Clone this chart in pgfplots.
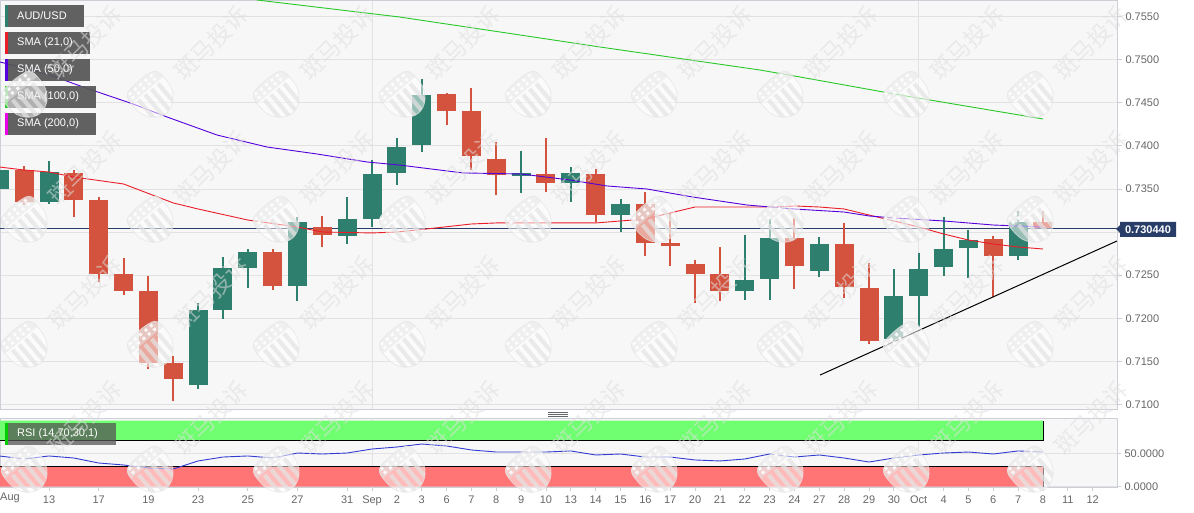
\documentclass[border=0pt]{standalone}
\usepackage{fontspec}
\setmainfont{Liberation Sans}
\newfontfamily\cjk{Noto Sans CJK SC}
\usepackage{pgfplots}
\usepackage{pgfplotstable}
\pgfplotsset{compat=1.18}
\definecolor{bg}{RGB}{247,247,247}
\definecolor{frame}{RGB}{205,207,215}
\definecolor{gridc}{RGB}{226,226,226}
\definecolor{up}{RGB}{47,127,110}
\definecolor{down}{RGB}{212,83,62}
\definecolor{navy}{RGB}{40,62,105}
\definecolor{lab}{RGB}{102,102,102}
\definecolor{box}{RGB}{85,85,85}
\definecolor{smar}{RGB}{235,30,40}
\definecolor{smap}{RGB}{85,0,220}
\definecolor{smag}{RGB}{40,200,40}
\definecolor{smam}{RGB}{230,0,230}
\definecolor{rsil}{RGB}{50,60,210}
\definecolor{bandg}{RGB}{112,255,112}
\definecolor{bandr}{RGB}{255,117,117}
\definecolor{wm}{RGB}{222,222,222}
\definecolor{wms}{RGB}{228,228,228}
\pgfplotstableread{
i top bot high low
0 .73720 .73500 .73883 .73222
2 .73697 .73349 .73825 .73326
8 .72096 .71226 .72178 .71180
9 .72584 .72096 .72711 .71992
10 .72769 .72584 .72804 .72352
12 .73117 .72375 .73175 .72201
14 .73152 .72955 .73407 .72862
15 .73674 .73152 .73836 .73059
16 .73987 .73686 .74092 .73546
17 .74590 .74010 .74776 .73929
21 .73686 .73651 .73941 .73454
23 .73686 .73570 .73755 .73349
25 .73326 .73198 .73384 .73001
30 .72444 .72317 .72966 .72212
31 .72932 .72456 .73152 .72212
33 .72862 .72549 .72943 .72479
36 .72259 .71760 .72572 .71737
37 .72572 .72259 .72758 .71899
38 .72804 .72595 .73175 .72491
39 .72908 .72816 .73024 .72468
41 .73117 .72723 .73245 .72676
}\upt
\pgfplotstableread{
i top bot high low
1 .73720 .73349 .73767 .73314
3 .73686 .73372 .73720 .73175
4 .73372 .72514 .73407 .72421
5 .72514 .72317 .72700 .72270
6 .72317 .71482 .72491 .71412
7 .71482 .71296 .71563 .71041
11 .72769 .72375 .72804 .72328
13 .73059 .72966 .73187 .72827
18 .74602 .74405 .74614 .74242
19 .74405 .73883 .74672 .73720
20 .73848 .73662 .74045 .73430
22 .73674 .73570 .74092 .73465
24 .73674 .73198 .73732 .73117
26 .73326 .72874 .73465 .72723
27 .72874 .72839 .73222 .72607
28 .72630 .72514 .72676 .72178
29 .72514 .72317 .72827 .72201
32 .72932 .72607 .73164 .72340
34 .72862 .72363 .73106 .72236
35 .72352 .71737 .72642 .71702
40 .72920 .72723 .72955 .72247
42 .73117 .73048 .73245 .73048
}\downt
\newcommand{\wmlogo}[2]{%
  \begin{scope}[shift={(#1,#2)},rotate=40]
    \begin{scope}
      \clip (-15,-20) .. controls (-5,-22) and (5,-22) .. (15,-20) .. controls (19,-19) and (21,-15) .. (21,-10) -- (21,-3) .. controls (21,11) and (10,21) .. (0,21) .. controls (-10,21) and (-21,11) .. (-21,-3) -- (-21,-10) .. controls (-21,-15) and (-19,-19) .. (-15,-20) -- cycle;
      \fill[white,opacity=.5] (-22,-23) rectangle (22,23);
      \foreach \s in {-15,-6.5,2,10.5} \fill[wms,opacity=.7] (\s,-7) rectangle (\s+4.2,23);
      \fill[wms,opacity=.5] (-21,-21) rectangle (21,-9);
      \foreach \a in {-17,-10,-3,4,11} \foreach \b in {-19,-14}
        \fill[white,opacity=.85] (\a,\b) rectangle (\a+3,\b+3);
    \end{scope}
    \draw[wms,opacity=.7,line width=.8pt] (-15,-20) .. controls (-5,-22) and (5,-22) .. (15,-20) .. controls (19,-19) and (21,-15) .. (21,-10) -- (21,-3) .. controls (21,11) and (10,21) .. (0,21) .. controls (-10,21) and (-21,11) .. (-21,-3) -- (-21,-10) .. controls (-21,-15) and (-19,-19) .. (-15,-20) -- cycle;
  \end{scope}
  \node[rotate=45,text=wm,opacity=.55,font=\cjk\fontsize{23}{25}\selectfont,inner sep=0pt] at (#1+58,#2-54) {斑马投诉};
}
\begin{document}
\begin{tikzpicture}
\path[use as bounding box] (0pt,0pt) rectangle (1194pt,-513pt);
\begin{axis}[
  name=main, at={(0pt,0pt)}, anchor=north west, scale only axis,
  width=1117pt, height=409pt,
  xmin=0.028, xmax=44.98, ymin=.70948, ymax=.75692,
  axis background/.style={fill=bg},
  axis line style={frame,line width=.9pt},
  ytick={.71,.715,.72,.725,.73,.735,.74,.745,.75,.755},
  xtick={15,37}, xticklabels={},
  ytick pos=right, xtick pos=bottom,
  tick align=outside, major tick length=5pt,
  y tick style={frame,line width=.8pt}, x tick style={draw=none},
  grid=major, grid style={gridc,line width=.8pt},
  y tick label style={font=\fontsize{11}{13}\selectfont,text=lab,/pgf/number format/.cd,fixed,fixed zerofill,precision=4,assume math mode=true},
  scaled y ticks=false,
  clip=true,
]
\addplot[navy,line width=.9pt] coordinates {(0,.73044)(45,.73044)};
\addplot[draw=none,mark=none,forget plot,error bars/.cd,y dir=both,y explicit,error mark=none,error bar style={up,solid,line width=2pt}]
  table[x=i,y=top,y error plus expr=\thisrow{high}-\thisrow{top},y error minus expr=\thisrow{top}-\thisrow{low}] {\upt};
\addplot[draw=none,mark=none,forget plot,error bars/.cd,y dir=both,y explicit,error mark=none,error bar style={up,solid,line width=19pt}]
  table[x=i,y=top,y error plus expr=0,y error minus expr=\thisrow{top}-\thisrow{bot}] {\upt};
\addplot[draw=none,mark=none,forget plot,error bars/.cd,y dir=both,y explicit,error mark=none,error bar style={down,solid,line width=2pt}]
  table[x=i,y=top,y error plus expr=\thisrow{high}-\thisrow{top},y error minus expr=\thisrow{top}-\thisrow{low}] {\downt};
\addplot[draw=none,mark=none,forget plot,error bars/.cd,y dir=both,y explicit,error mark=none,error bar style={down,solid,line width=19pt}]
  table[x=i,y=top,y error plus expr=0,y error minus expr=\thisrow{top}-\thisrow{bot}] {\downt};
% SMA 21
\addplot[smar,line width=.9pt] coordinates {(0,.73755)(1,.73720)(2,.73697)(3,.73639)(5,.73558)(7,.73338)(8,.73268)(10,.73140)(12,.73059)(13,.73001)(15,.72990)(16,.73001)(17,.73030)(19,.73094)(20,.73106)(24,.73106)(25,.73129)(26,.73152)(27,.73222)(28,.73291)(29,.73291)(31,.73291)(32,.73303)(33,.73291)(34,.73268)(35,.73198)(36,.73129)(37,.73059)(38,.72978)(39,.72908)(40,.72862)(41,.72827)(42,.72804)};
% SMA 50
\addplot[smap,line width=.9pt] coordinates {(.03,.74973)(2.04,.74822)(3.37,.74683)(5.38,.74486)(6.75,.74335)(8.76,.74126)(10.77,.73987)(12.78,.73906)(14.8,.73813)(16.1,.73778)(18.66,.73686)(21,.73674)(22.97,.73604)(24.45,.73535)(26.06,.73500)(27.9,.73407)(30.09,.73314)(31.98,.73268)(33.99,.73233)(35,.73187)(36,.73164)(38,.73129)(40,.73082)(41,.73071)(42,.73059)};
% SMA 100
\addplot[smag,line width=.9pt] coordinates {(10.37,.75692)(16.1,.75495)(20.15,.75321)(24.17,.75147)(30.61,.74880)(32.22,.74799)(36.25,.74590)(42,.74312)};
% trend line
\addplot[black,line width=1pt] coordinates {(33.03,.71342)(44.98,.72897)};
\end{axis}
\begin{axis}[
  name=rsi, at={(0pt,-418pt)}, anchor=north west, scale only axis,
  width=1117pt, height=69pt,
  xmin=0.028, xmax=44.98, ymin=-.76, ymax=104.1,
  axis background/.style={fill=bg},
  axis line style={frame,line width=.9pt},
  ytick={0,50}, ytick pos=right, xtick pos=bottom,
  tick align=outside, major tick length=4pt,
  tick style={frame,line width=.8pt},
  ymajorgrids, grid style={gridc,line width=.8pt},
  xtick={0,2,4,6,8,10,12,14,15,16,17,18,19,20,21,22,23,24,25,26,27,28,29,30,31,32,33,34,35,36,37,38,39,40,41,42,43,44},
  xticklabels={,13,17,19,23,25,27,31,Sep,2,3,6,7,8,9,10,13,14,15,16,17,20,21,22,23,24,27,28,29,30,Oct,4,5,6,7,8,11,12},
  x tick label style={font=\fontsize{11}{13}\selectfont,text=lab,yshift=-1pt},
  y tick label style={font=\fontsize{11}{13}\selectfont,text=lab,/pgf/number format/.cd,fixed,fixed zerofill,precision=4,assume math mode=true},
  clip=true,
]
\addplot[gridc,line width=.8pt] coordinates {(15,-2)(15,105)};
\addplot[gridc,line width=.8pt] coordinates {(37,-2)(37,105)};
\addplot[draw=none,fill=bandg] coordinates {(0,100)(42,100)(42,70)(0,70)} \closedcycle;
\addplot[draw=none,fill=bandr] coordinates {(0,30)(42,30)(42,0)(0,0)} \closedcycle;
\addplot[black,line width=.9pt] coordinates {(0,70)(42,70)(42,100)};
\addplot[black,line width=.9pt] coordinates {(0,30)(42,30)(42,0)};
\addplot[rsil,line width=.9pt] coordinates {(0,46.4)(1,41.8)(2,46.4)(3,43.3)(4,35.7)(5,32.7)(6,28.1)(7,26.6)(8,38.8)(9,44.8)(10,46.4)(11,43.3)(12,50.9)(13,49.4)(14,50.9)(15,57.0)(16,60.0)(17,64.6)(18,61.6)(19,55.5)(20,52.4)(21,52.4)(22,52.4)(23,54.0)(24,47.9)(25,49.4)(26,44.8)(27,44.8)(28,40.3)(29,38.8)(30,41.8)(31,49.4)(32,44.8)(33,47.9)(34,43.3)(35,37.2)(36,43.3)(37,47.9)(38,50.9)(39,52.4)(40,49.4)(41,54.0)(42,52.4)};
\end{axis}
\begin{scope}[x=1pt,y=-1pt,font=\fontsize{11}{13}\selectfont]
  % Aug label, pushed inside the picture
  \node[anchor=west,inner sep=0pt,text=lab] at (0,498) {Aug};
  % resize handle
  \foreach \yy in {412.5,414.5,416.5} \draw[lab,line width=.7pt] (548,\yy) -- (568,\yy);
  % last price tag
  \fill[navy] (1116,229) -- (1120,225) -- (1120,222) -- (1176,222) -- (1176,237) -- (1120,237) -- (1120,233) -- cycle;
  \node[text=white,font=\bfseries\fontsize{11}{13}\selectfont,inner sep=0pt] at (1148,229.5) {0.730440};
  % legend boxes
  \newcommand{\lbox}[6]{%
    \fill[box,fill opacity=.92] (#1,#2) rectangle (#3,#2+22);
    \fill[#4] (#1,#2) rectangle (#1+3,#2+22);
    \node[anchor=west,inner sep=0pt,text=white] at (17,#2+11) {#5};}
  \lbox{5}{5}{84}{up}{AUD/USD}{}
  \lbox{5}{32}{90}{smar}{SMA (21,0)}{}
  \lbox{5}{59}{90}{smap}{SMA (50,0)}{}
  \lbox{5}{86}{96}{smag}{SMA (100,0)}{}
  \lbox{5}{113}{96}{smam}{SMA (200,0)}{}
  \fill[box,fill opacity=.75] (5,423) rectangle (116,445);
  \fill[green!80!black] (5,423) rectangle (8,445);
  \node[anchor=west,inner sep=0pt,text=white] at (17,434) {RSI (14,70,30,1)};
  % watermark
  \foreach \cx in {27,153,279,405,531,657,783,909,1033}
    \foreach \cy in {97,222,347,472} {\wmlogo{\cx}{\cy}}
\end{scope}
\end{tikzpicture}
\end{document}
